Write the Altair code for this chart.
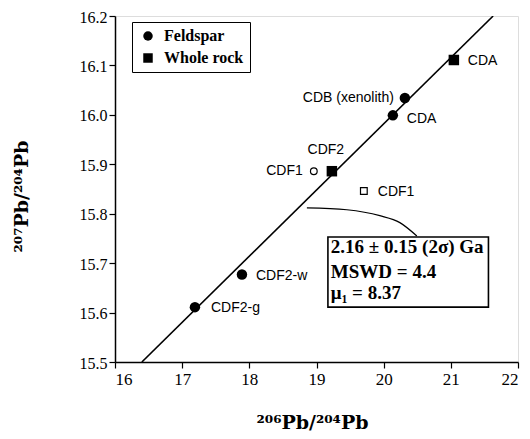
import altair as alt
import pandas as pd

# ---- data ----
pid = ["CDA_wr", "CDB", "CDA_f", "CDF2_wr", "CDF1_f", "CDF1_wr", "CDF2w", "CDF2g"]
names = ["CDA", "CDB (xenolith)", "CDA", "CDF2", "CDF1", "CDF1", "CDF2-w", "CDF2-g"]
pb206 = [21.045, 20.316, 20.137, 19.229, 18.96, 19.705, 17.89, 17.19]
pb207 = [16.111, 16.034, 15.999, 15.886, 15.886, 15.846, 15.677, 15.611]
kind = ["Whole rock", "Feldspar", "Feldspar", "Whole rock", "Feldspar", "Whole rock", "Feldspar", "Feldspar"]
filled = [True, True, True, True, False, False, True, True]

iso_x = [16.40, 21.63]
iso_y = [15.5, 16.2]

leader_x = [18.857, 19.452, 19.943, 20.241, 20.494]
leader_y = [15.812, 15.808, 15.796, 15.782, 15.755]

anno_lines = ["2.16 ± 0.15 (2σ) Ga", "MSWD = 4.4", "μ₁ = 8.37"]
anno_y = [15.733, 15.683, 15.639]
anno_x = 19.214
box_x, box_x2, box_y, box_y2 = 19.17, 21.56, 15.753, 15.611

x_ticks = [16 + 0.5 * i for i in range(13)]
y_ticks = [round(15.5 + 0.05 * i, 2) for i in range(15)]

pts = pd.DataFrame({"id": pid, "name": names, "x": pb206, "y": pb207,
                    "kind": kind, "filled": filled})
iso = pd.DataFrame({"x": iso_x, "y": iso_y})
leader = pd.DataFrame({"x": leader_x, "y": leader_y, "o": list(range(len(leader_x)))})
anno = pd.DataFrame({"t": anno_lines, "y": anno_y, "x": [anno_x] * len(anno_lines)})
box = pd.DataFrame({"x": [box_x], "x2": [box_x2], "y": [box_y], "y2": [box_y2]})

SERIF = "Liberation Serif"
TSERIF = "DejaVu Serif"
SANS = "Liberation Sans"

W, H = 403, 346

xscale = alt.Scale(domain=[16, 22], nice=False, zero=False)
yscale = alt.Scale(domain=[15.5, 16.2], nice=False, zero=False)

xaxis = alt.Axis(values=x_ticks, labelExpr="datum.value % 1 === 0 ? datum.label : ''",
                 format="d", grid=False, title="²⁰⁶Pb/²⁰⁴Pb",
                 tickSize={"condition": {"test": "datum.value % 1 === 0", "value": 6}, "value": 3},
                 labelFont=SERIF, labelFontSize=17, labelPadding=3,
                 titleFont=TSERIF, titleFontSize=19, titleFontWeight="bold",
                 titleX=197, titleY=60, titleBaseline="middle", titleAlign="center",
                 domainColor="black", tickColor="black", labelColor="black", titleColor="black",
                 domainWidth=1.5, tickWidth=1.2)
yaxis = alt.Axis(values=y_ticks, labelExpr="round(datum.value*100) % 10 == 0 ? format(datum.value, '.1f') : ''",
                 grid=False, title="²⁰⁷Pb/²⁰⁴Pb",
                 tickSize={"condition": {"test": "round(datum.value*100) % 10 == 0", "value": 6}, "value": 3},
                 labelFont=SERIF, labelFontSize=16, labelPadding=2, labelOffset=1,
                 titleFont=TSERIF, titleFontSize=19, titleFontWeight="bold",
                 titleX=-94, titleY=180, titleBaseline="middle", titleAlign="center", titleAngle=270,
                 domainColor="black", tickColor="black", labelColor="black", titleColor="black",
                 domainWidth=1.5, tickWidth=1.2)

shape_scale = alt.Scale(domain=["Feldspar", "Whole rock"], range=["circle", "square"])

line = alt.Chart(iso).mark_line(color="black", strokeWidth=1.6, clip=True).encode(
    x=alt.X("x:Q", scale=xscale, axis=xaxis),
    y=alt.Y("y:Q", scale=yscale, axis=yaxis),
)

filled_pts = alt.Chart(pts).transform_filter("datum.filled").mark_point(
    filled=True, color="black", size=110, opacity=1).encode(
    x="x:Q", y="y:Q",
    shape=alt.Shape("kind:N", scale=shape_scale,
                    legend=alt.Legend(title=None, orient="none", legendX=17, legendY=6,
                                      strokeColor="black", padding=6, fillColor="white",
                                      labelFont=SERIF, labelFontSize=16, labelFontWeight="bold",
                                      labelColor="black", symbolFillColor="black",
                                      symbolStrokeColor="black", symbolSize=90, rowPadding=6,
                                      symbolOffset=2, labelOffset=8)),
)

open_pts = alt.Chart(pts).transform_filter("!datum.filled").mark_point(
    filled=False, color="black", size=45, strokeWidth=1.2, opacity=1).encode(
    x="x:Q", y="y:Q",
    shape=alt.Shape("kind:N", scale=shape_scale, legend=None),
)

label_styles = [
    (["CDA_wr", "CDF1_wr", "CDF2w"], "left", 14, 1),
    (["CDA_f"], "left", 14, 4),
    (["CDF2g"], "left", 16, 1),
    (["CDB", "CDF1_f"], "right", -11, 0),
    (["CDF2_wr"], "center", -6, -21),
]
labels = []
for ids, align, dx, dy in label_styles:
    labels.append(
        alt.Chart(pts).transform_filter(alt.FieldOneOfPredicate(field="id", oneOf=ids))
        .mark_text(align=align, baseline="middle", dx=dx, dy=dy, font=SANS, fontSize=14, color="black")
        .encode(x="x:Q", y="y:Q", text="name:N")
    )

leader_line = alt.Chart(leader).mark_line(color="black", strokeWidth=1.2, interpolate="monotone").encode(
    x="x:Q", y="y:Q", order="o:Q")

box_rect = alt.Chart(box).mark_rect(fill="white", stroke="black", strokeWidth=1.6).encode(
    x="x:Q", x2="x2:Q", y="y:Q", y2="y2:Q")

anno_text = alt.Chart(anno).mark_text(align="left", baseline="middle", font=SERIF, fontSize=19,
                                      fontWeight="bold", color="black").encode(
    x="x:Q", y="y:Q", text="t:N")

chart = alt.layer(line, leader_line, box_rect, anno_text, filled_pts, open_pts, *labels).properties(
    width=W, height=H,
    autosize=alt.AutoSizeParams(type="none"),
    padding={"left": 107, "top": 8, "right": 4, "bottom": 70},
).configure_view(stroke="black", strokeWidth=1.5).configure(background="white")

chart.save("out.html", embed_options={"renderer": "svg", "actions": False})
